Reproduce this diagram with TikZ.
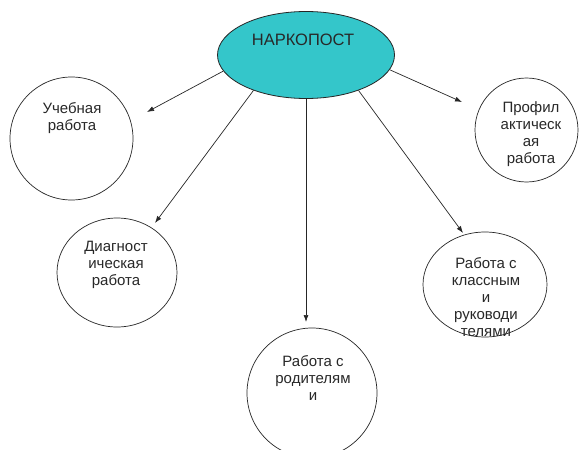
\documentclass[tikz,border=0pt]{standalone}
\usepackage{fontspec}
\setmainfont{Liberation Sans}
\usetikzlibrary{shapes.geometric,arrows.meta}
\definecolor{hubfill}{RGB}{52,198,202}
\definecolor{txt}{RGB}{40,40,40}
\tikzset{
  topic/.style={ellipse,draw=black!85,line width=0.7pt,inner sep=0pt,fill=white},
  label/.style={align=center,text=txt,font=\fontsize{15pt}{17pt}\selectfont,inner sep=0pt},
  conn/.style={draw=black!85,line width=0.7pt,-{Latex[length=7pt,width=5pt]}}
}
\begin{document}
\begin{tikzpicture}[x=1pt,y=-1pt]
\useasboundingbox (0,0) rectangle (582,450);
\clip (0,0) rectangle (582,450);
% hub
\node[ellipse,draw=black!85,line width=0.8pt,fill=hubfill,minimum width=177pt,minimum height=87pt,inner sep=0pt] (hub) at (306,55) {};
\node[text=txt,font=\fontsize{16.5pt}{19pt}\selectfont,inner sep=0pt] (hubtxt) at (303,40) {НАРКОПОСТ};
% topics
\node[topic,minimum width=123pt,minimum height=123pt] (ucheb) at (71.5,138.5) {};
\node[label] (uchebtxt) at (72,118.5) {Учебная\\работа};
\node[topic,minimum width=120pt,minimum height=109pt] (diag) at (117,272.5) {};
\node[label] (diagtxt) at (116,265) {Диагност\\ическая\\работа};
\node[topic,minimum width=130pt,minimum height=130pt] (rodit) at (312,393) {};
\node[label] (rodittxt) at (313,377.5) {Работа с\\родителям\\и};
\node[topic,minimum width=124pt,minimum height=105pt] (klass) at (485,284.5) {};
\node[label] (klasstxt) at (486,297.5) {Работа с\\классным\\и\\руководи\\телями};
\node[topic,minimum width=103pt,minimum height=104pt] (profil) at (526.5,130) {};
\node[label] (profiltxt) at (531,134) {Профил\\актическ\\ая\\работа};
% arrow ends
\coordinate (t1) at (147,112);
\coordinate (t2) at (155,223);
\coordinate (t3) at (306,322);
\coordinate (t4) at (463,233);
\coordinate (t5) at (462,102);
\draw[conn] (hub.191) -- (t1);
\draw[conn] (hub.214) -- (t2);
\draw[conn] (hub.270) -- (t3);
\draw[conn] (hub.326) -- (t4);
\draw[conn] (hub.350) -- (t5);
\end{tikzpicture}
\end{document}
